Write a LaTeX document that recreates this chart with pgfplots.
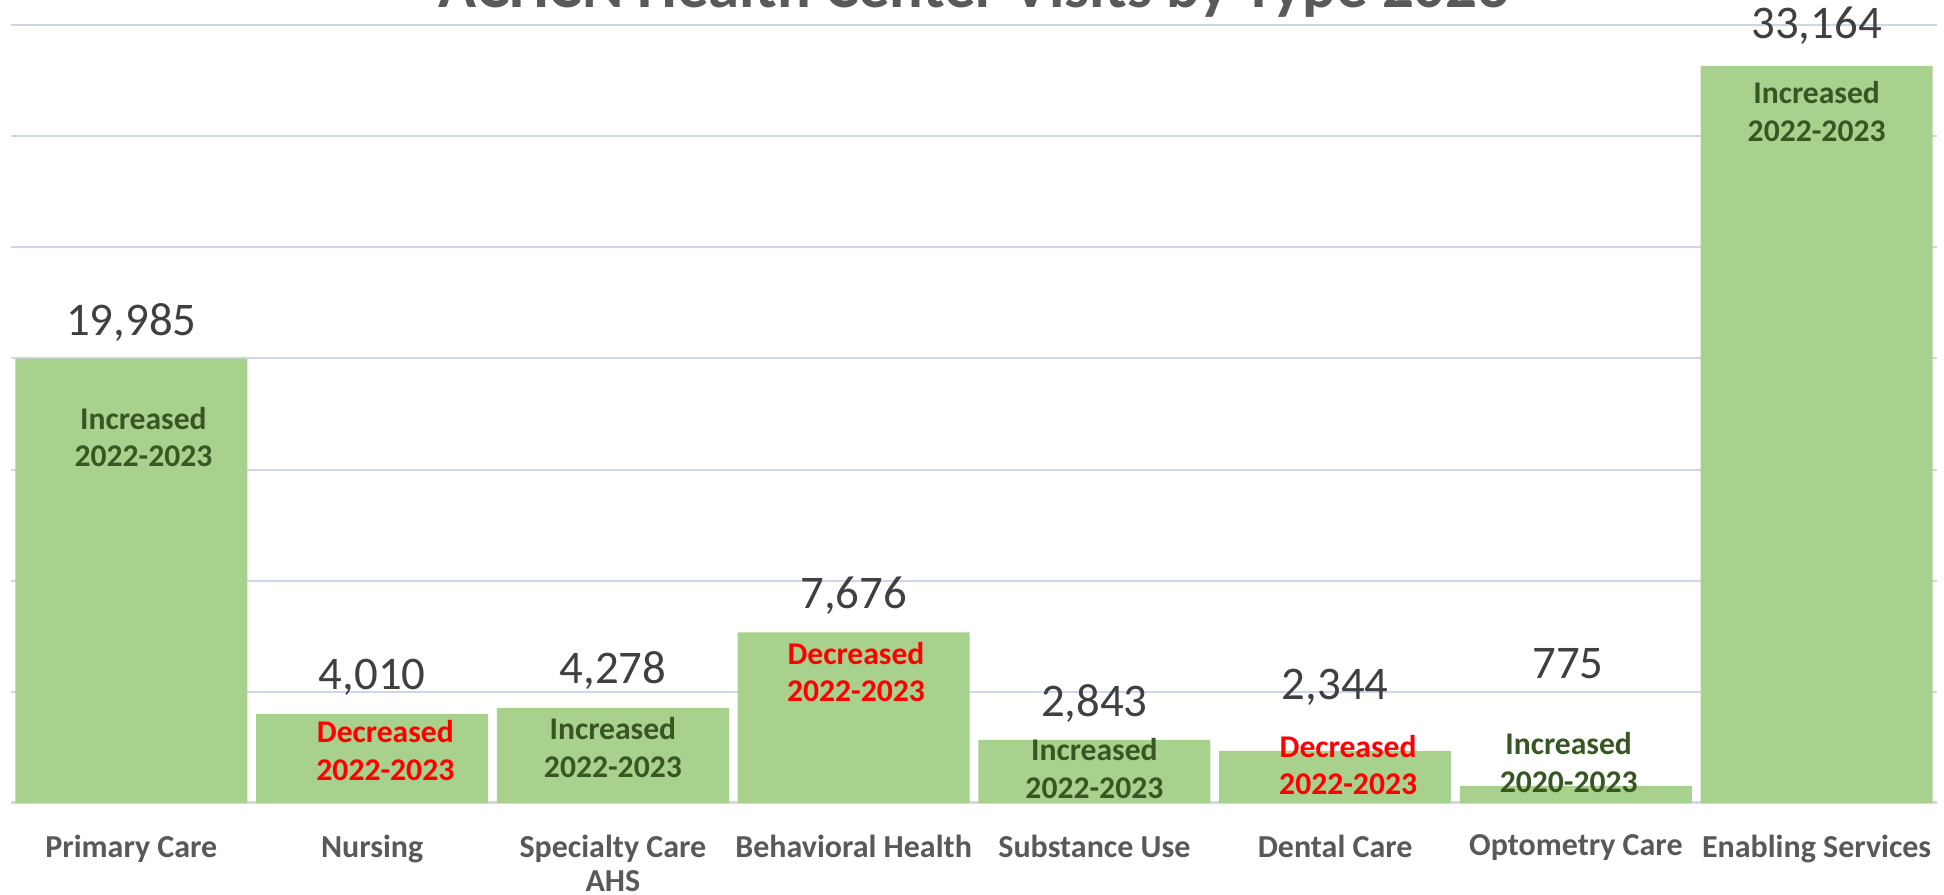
\documentclass[border=0pt]{standalone}
\usepackage{fontspec}
\setmainfont{Carlito}
\usepackage{pgfplots}
\pgfplotsset{compat=1.18}
\usepackage{pgfplotstable}
\usetikzlibrary{calc}

\definecolor{bargreen}{HTML}{A9D18E}
\definecolor{darkgreen}{HTML}{375623}
\definecolor{gridblue}{HTML}{CDD6EB}
\definecolor{labelgray}{HTML}{595959}
\definecolor{valgray}{HTML}{404040}
\definecolor{basegray}{HTML}{D9D9D9}

% visits 2023, label offsets in pt
\pgfplotstableread{
x y dy dx
0 19985 5.75 0
1 4010 6 0
2 4278 6 0
3 7676 6 0
4 2843 5.75 0
5 2344 12.75 0
6 775 26.75 -2
7 33164 6.75 0
}\visits

\tikzset{ann/.style={font=\bfseries\fontsize{7.9}{9.4}\selectfont, align=center, anchor=center, inner sep=0pt}}

\begin{document}
\begin{tikzpicture}
\begin{axis}[
  scale only axis, width=481.5pt, height=194.5pt,
  xmin=-0.5, xmax=7.5, ymin=0, ymax=35000,
  ybar, bar width=58pt,
  xtick={0,...,7},
  xticklabels={Primary Care, Nursing, {Specialty Care\\AHS}, Behavioral Health,
    Substance Use, Dental Care, Optometry Care, Enabling Services},
  xticklabel style={font=\bfseries\fontsize{8}{8.5}\selectfont, text=labelgray,
    align=center, anchor=north, inner sep=0pt, yshift=-7.8pt},
  ytick={0,5000,...,35000}, yticklabels={}, scaled y ticks=false,
  ymajorgrids, grid style={gridblue, line width=0.5pt},
  axis x line*=bottom, axis y line*=left,
  x axis line style={basegray, line width=0.75pt, -},
  y axis line style={draw=none},
  major tick length=0pt,
  clip=false,
  /pgf/number format/.cd, fixed, precision=0, 1000 sep={,}, assume math mode=true,
]
\addplot[fill=bargreen, draw=none, point meta=y, nodes near coords,
  visualization depends on={\thisrow{dy}\as\dy},
  visualization depends on={\thisrow{dx}\as\dx},
  every node near coord/.append style={anchor=base, inner sep=0pt,
    yshift=\dy*1pt, xshift=\dx*1pt,
    font=\fontsize{11.7}{14}\selectfont, text=valgray}]
  table[x=x, y=y] {\visits};

\node[ann, text=darkgreen] at (axis cs:0.05,16461) {Increased\\2022-2023};
\node[ann, text=red] at (axis cs:1.055,2372) {Decreased\\2022-2023};
\node[ann, text=darkgreen] at (axis cs:2,2483) {Increased\\2022-2023};
\node[ann, text=red] at (axis cs:3.01,5887) {Decreased\\2022-2023};
\node[ann, text=darkgreen] at (axis cs:4,1562) {Increased\\2022-2023};
\node[ann, text=red] at (axis cs:5.054,1702) {Decreased\\2022-2023};
\node[ann, text=darkgreen] at (axis cs:5.97,1813) {Increased\\2020-2023};
\node[ann, text=darkgreen] at (axis cs:7,31109) {Increased\\2022-2023};

\node[anchor=base, font=\bfseries\fontsize{15.7}{18}\selectfont, text=labelgray]
  at ([yshift=4.25pt]rel axis cs:0.5,1) {ACHCN Health Center Visits by Type 2023};

\coordinate (bl) at (rel axis cs:0,0);
\coordinate (tr) at (rel axis cs:1,1);
\end{axis}
\pgfresetboundingbox
\path[use as bounding box] ([shift={(-2.75pt,-23pt)}]bl) rectangle ([shift={(1.75pt,6.25pt)}]tr);
\end{tikzpicture}
\end{document}
